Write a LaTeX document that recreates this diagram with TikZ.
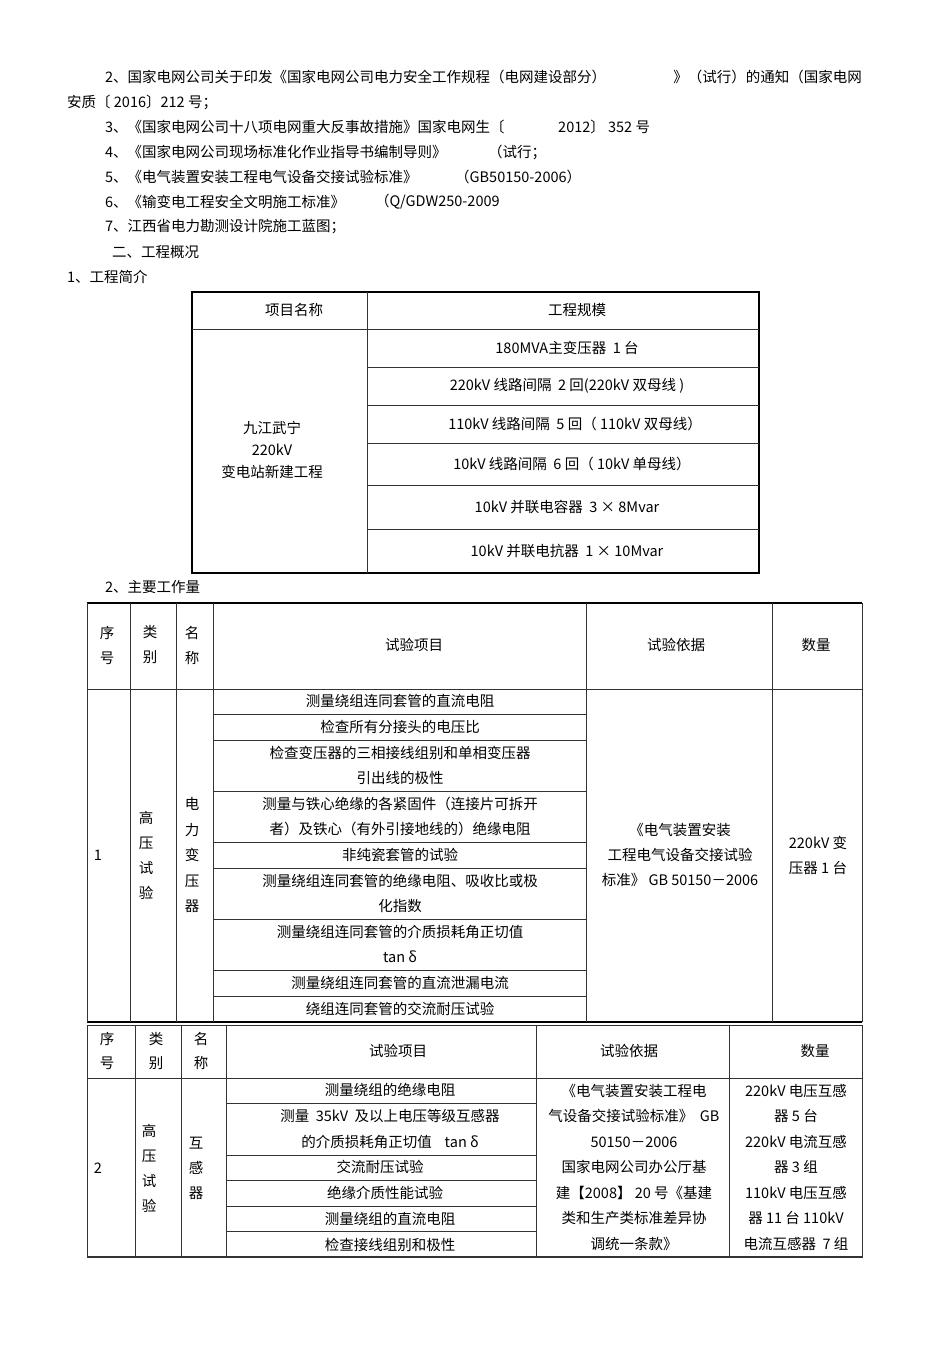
\documentclass[tikz,border=0pt]{standalone}
\usepackage{fontspec}
\setmainfont{Noto Sans CJK SC}
\begin{document}
\begin{tikzpicture}[x=1pt,y=-1pt,
  txt/.style={inner sep=0pt,font=\fontsize{14.5}{25}\selectfont,text=black},
  thin/.style={line width=0.7pt,draw=black!80},
  thick/.style={line width=1.8pt,draw=black}]
\useasboundingbox (0,0) rectangle (950,1345);
\fill[white] (0,0) rectangle (950,1345);
% top text
\node[txt,anchor=west] (l2a) at (105,77) {2、国家电网公司关于印发《国家电网公司电力安全工作规程（电网建设部分）};
\node[txt,anchor=east] (l2b) at (862,77) {》（试行）的通知（国家电网};
\node[txt,anchor=west] (l2c) at (67,102) {安质〔 2016〕212 号；};
\node[txt,anchor=west] (l3a) at (105,127) {3、《国家电网公司十八项电网重大反事故措施》国家电网生〔};
\node[txt,anchor=west] (l3b) at (558,127) {2012〕 352 号};
\node[txt,anchor=west] (l4a) at (105,152) {4、《国家电网公司现场标准化作业指导书编制导则》};
\node[txt,anchor=west] (l4b) at (488,152) {（试行；};
\node[txt,anchor=west] (l5a) at (105,177) {5、《电气装置安装工程电气设备交接试验标准》};
\node[txt,anchor=west] (l5b) at (455,177) {（GB50150-2006）};
\node[txt,anchor=west] (l6a) at (105,202) {6、《输变电工程安全文明施工标准》};
\node[txt,anchor=west] (l6b) at (375,202) {（Q/GDW250-2009};
\node[txt,anchor=west] (l7) at (105,227) {7、江西省电力勘测设计院施工蓝图；};
\node[txt,anchor=west] (s2) at (112,252) {二、工程概况};
\node[txt,anchor=west] (s21) at (67,277) {1、工程简介};
% table 1
\draw[thick,line width=1.5pt] (192,292) rectangle (759,573);
\draw[thin] (367,292) -- (367,573);
\foreach \y in {329,367,405,443,485,529} \draw[thin] (367,\y) -- (759,\y);
\draw[thin] (192,329) -- (367,329);
\node[txt] (h1) at (294,310) {项目名称};
\node[txt] (h2) at (577,310) {工程规模};
\node[txt,align=center,font=\fontsize{14.5}{22}\selectfont] (nm) at (272,450) {九江武宁\\220kV\\变电站新建工程};
\node[txt] (r1) at (567,348) {180MVA主变压器\ \ 1 台};
\node[txt] (r2) at (567,386) {220kV 线路间隔\ \ 2 回(220kV 双母线 )};
\node[txt] (r3) at (575,424) {110kV 线路间隔\ \ 5 回（ 110kV 双母线）};
\node[txt] (r4) at (572,464) {10kV 线路间隔\ \ 6 回（ 10kV 单母线）};
\node[txt] (r5) at (567,507) {10kV 并联电容器\ \ 3 × 8Mvar};
\node[txt] (r6) at (567,551) {10kV 并联电抗器\ \ 1 × 10Mvar};
\node[txt,anchor=west] (s22) at (105,587) {2、主要工作量};
% table 2
\draw[thick] (87,603) -- (862,603);
\draw[thick] (87,1022) -- (862,1022);
\draw[thin] (87,603) -- (87,1022) (862,603) -- (862,1022);
\foreach \x in {130,176,213,586,772} \draw[thin] (\x,603) -- (\x,1022);
\draw[thin] (87,689) -- (862,689);
\foreach \y in {714,740,791,842,868,919,970,996} \draw[thin] (213,\y) -- (586,\y);
\node[txt,align=center] (a1) at (107,645) {序\\号};
\node[txt,align=center] (a2) at (150,645) {类\\别};
\node[txt,align=center] (a3) at (192,645) {名\\称};
\node[txt] (a4) at (414,645) {试验项目};
\node[txt] (a5) at (676,645) {试验依据};
\node[txt] (a6) at (816,645) {数量};
\node[txt] (b1) at (98,855) {1};
\node[txt,align=center] (b2) at (146,855) {高\\压\\试\\验};
\node[txt,align=center,font=\fontsize{14.5}{25.5}\selectfont] (b3) at (192,855) {电\\力\\变\\压\\器};
\node[txt] (i1) at (400,701) {测量绕组连同套管的直流电阻};
\node[txt] (i2) at (400,727) {检查所有分接头的电压比};
\node[txt,align=center] (i3) at (400,765) {检查变压器的三相接线组别和单相变压器\\引出线的极性};
\node[txt,align=center] (i4) at (400,816) {测量与铁心绝缘的各紧固件（连接片可拆开\\者）及铁心（有外引接地线的）绝缘电阻};
\node[txt] (i5) at (400,855) {非纯瓷套管的试验};
\node[txt,align=center] (i6) at (400,893) {测量绕组连同套管的绝缘电阻、吸收比或极\\化指数};
\node[txt,align=center] (i7) at (400,944) {测量绕组连同套管的介质损耗角正切值\\tan δ};
\node[txt] (i8) at (400,983) {测量绕组连同套管的直流泄漏电流};
\node[txt] (i9) at (400,1009) {绕组连同套管的交流耐压试验};
\node[txt,align=center] (bs1) at (680,855) {《电气装置安装\\工程电气设备交接试验\\标准》 GB 50150－2006};
\node[txt,align=center] (q1) at (818,855) {220kV 变\\压器 1 台};
% table 3
\draw[thin] (87,1025) rectangle (862,1257);
\draw[thin,line width=1.1pt] (87,1257) -- (862,1257);
\foreach \x in {135,181,226,536,729} \draw[thin] (\x,1025) -- (\x,1257);
\draw[thin] (87,1078) -- (862,1078);
\foreach \y in {1103,1155,1180,1206,1231} \draw[thin] (226,\y) -- (536,\y);
\node[txt,align=center,font=\fontsize{14.5}{24}\selectfont] (c1) at (107,1051) {序\\号};
\node[txt,align=center,font=\fontsize{14.5}{24}\selectfont] (c2) at (156,1051) {类\\别};
\node[txt,align=center,font=\fontsize{14.5}{24}\selectfont] (c3) at (201,1051) {名\\称};
\node[txt] (c4) at (398,1051) {试验项目};
\node[txt] (c5) at (629,1051) {试验依据};
\node[txt] (c6) at (815,1051) {数量};
\node[txt] (d1) at (98,1168) {2};
\node[txt,align=center] (d2) at (149,1168) {高\\压\\试\\验};
\node[txt,align=center] (d3) at (196,1168) {互\\感\\器};
\node[txt] (j1) at (390,1090) {测量绕组的绝缘电阻};
\node[txt,align=center,font=\fontsize{14.5}{26}\selectfont] (j2) at (390,1129) {测量\ \ 35kV\ \ 及以上电压等级互感器\\的介质损耗角正切值\ \ \ \ tan δ};
\node[txt] (j3) at (380,1167) {交流耐压试验};
\node[txt] (j4) at (385,1193) {绝缘介质性能试验};
\node[txt] (j5) at (390,1219) {测量绕组的直流电阻};
\node[txt] (j6) at (390,1245) {检查接线组别和极性};
\node[txt,align=center,font=\fontsize{14.5}{25.5}\selectfont] (bs2) at (634,1167) {《电气装置安装工程电\\气设备交接试验标准》\ \ GB\\50150－2006\\国家电网公司办公厅基\\建【2008】 20 号《基建\\类和生产类标准差异协\\调统一条款》};
\node[txt,align=center,font=\fontsize{14.5}{25.5}\selectfont] (q2) at (796,1167) {220kV 电压互感\\器 5 台\\220kV 电流互感\\器 3 组\\110kV 电压互感\\器 11 台 110kV\\电流互感器\ \ 7 组};
\end{tikzpicture}
\end{document}
